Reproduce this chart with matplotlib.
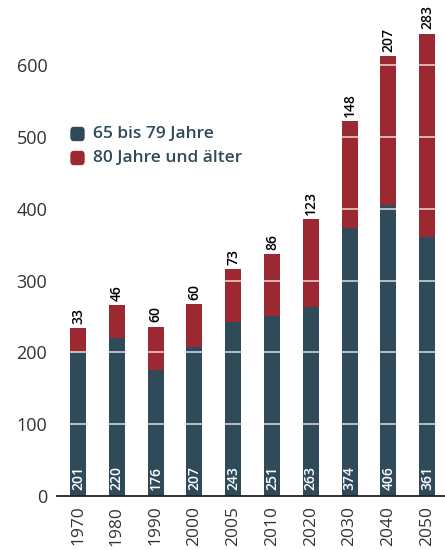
import matplotlib
matplotlib.use("Agg")
import matplotlib.pyplot as plt
from matplotlib.patches import FancyBboxPatch

years = ["1970", "1980", "1990", "2000", "2005", "2010", "2020", "2030", "2040", "2050"]
age_65_79 = [201, 220, 176, 207, 243, 251, 263, 374, 406, 361]
age_80_plus = [33, 46, 60, 60, 73, 86, 123, 148, 207, 283]
yticks = [0, 100, 200, 300, 400, 500, 600]
series_names = ["65 bis 79 Jahre", "80 Jahre und älter"]

c_dark = "#2f4a59"
c_red = "#9c2931"

plt.rcParams['font.family'] = ['Open Sans', 'DejaVu Sans']

fig = plt.figure(figsize=(4.45, 5.5), dpi=100)
ax = fig.add_axes([57/445, 54/550, 1 - 57/445, 496/550])

x = list(range(len(years)))
w = 0.41
ax.bar(x, age_65_79, width=w, color=c_dark, zorder=2)
ax.bar(x, age_80_plus, bottom=age_65_79, width=w, color=c_red, zorder=2)

for yv in yticks[1:]:
    ax.axhline(yv, color="white", alpha=0.75, lw=1.2, zorder=3)

for i in x:
    ax.text(i, 9, str(age_65_79[i]), rotation=90, ha="center", va="bottom",
            color="white", fontsize=10, fontweight="semibold", zorder=4)
    tot = age_65_79[i] + age_80_plus[i]
    ax.text(i, tot + 6, str(age_80_plus[i]), rotation=90, ha="center", va="bottom",
            color="black", fontsize=10, fontweight="semibold", zorder=4)

ax.set_xlim(-0.54, 9.46)
ax.set_ylim(0, 691)
ax.set_yticks(yticks)
ax.set_yticklabels([str(v) for v in yticks], fontsize=13, color="#333333")
ax.set_xticks(x)
ax.set_xticklabels(years, rotation=90, fontsize=12.5, color="#333333")
ax.tick_params(axis="both", length=0, pad=7)
for s in ["top", "right", "left"]:
    ax.spines[s].set_visible(False)
ax.spines["bottom"].set_color("#222222")
ax.spines["bottom"].set_linewidth(1.3)
ax.spines["bottom"].set_zorder(5)

# legend
for j, (name, col) in enumerate(zip(series_names, [c_dark, c_red])):
    yc = 1 - (134 + j * 24) / 550
    box = FancyBboxPatch((71/445, yc - 6.5/550), 13/445, 13/550,
                         boxstyle="round,pad=0,rounding_size=0.006",
                         transform=fig.transFigure, color=col, zorder=6)
    fig.patches.append(box)
    fig.text(93/445, yc, name, ha="left", va="center", fontsize=12.5,
             fontweight="semibold", color="#2f4a59")

fig.savefig("out.png", dpi=100)
